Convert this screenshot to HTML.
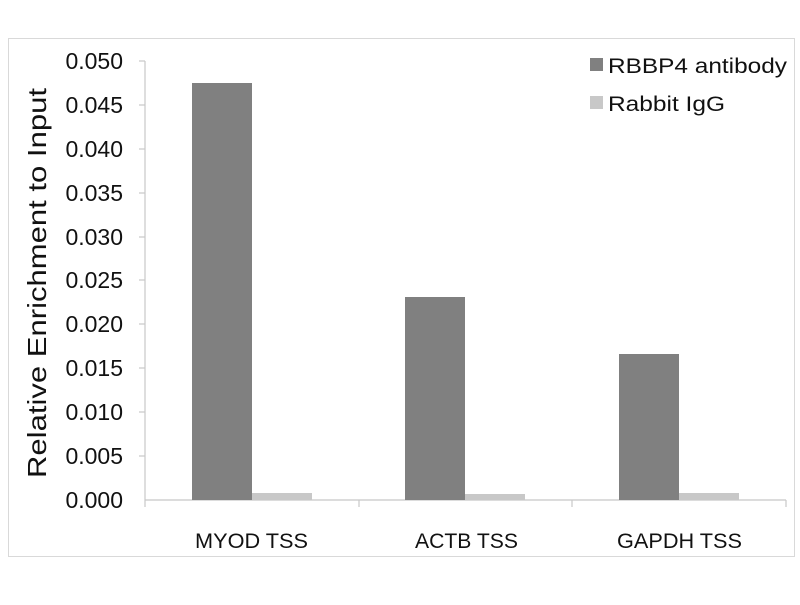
<!DOCTYPE html><html><head><style>body{margin:0;background:#fff}</style></head><body>
<svg width="800" height="600" xmlns="http://www.w3.org/2000/svg" font-family="'Liberation Sans',sans-serif">
<rect x="0" y="0" width="800" height="600" fill="#fff"/>
<rect x="8.5" y="38.5" width="786" height="518" fill="none" stroke="#d9d9d9"/>
<g stroke="#c8c8c8" stroke-width="1.2">
<line x1="145" y1="61" x2="145" y2="500"/>
<line x1="145" y1="500" x2="786" y2="500"/>
<line x1="139" y1="61" x2="145" y2="61"/><line x1="139" y1="105" x2="145" y2="105"/><line x1="139" y1="149" x2="145" y2="149"/><line x1="139" y1="193" x2="145" y2="193"/><line x1="139" y1="237" x2="145" y2="237"/><line x1="139" y1="280" x2="145" y2="280"/><line x1="139" y1="324" x2="145" y2="324"/><line x1="139" y1="368" x2="145" y2="368"/><line x1="139" y1="412" x2="145" y2="412"/><line x1="139" y1="456" x2="145" y2="456"/>
<line x1="145" y1="500" x2="145" y2="507"/><line x1="359" y1="500" x2="359" y2="507"/><line x1="572" y1="500" x2="572" y2="507"/><line x1="786" y1="500" x2="786" y2="507"/>
</g>
<g font-size="23" fill="#111" text-anchor="end">
<text x="123" y="69">0.050</text><text x="123" y="113">0.045</text><text x="123" y="157">0.040</text><text x="123" y="201">0.035</text><text x="123" y="245">0.030</text><text x="123" y="288">0.025</text><text x="123" y="332">0.020</text><text x="123" y="376">0.015</text><text x="123" y="420">0.010</text><text x="123" y="464">0.005</text><text x="123" y="508">0.000</text>
</g>
<text transform="translate(46,283) rotate(-90)" font-size="26" text-anchor="middle" fill="#111" textLength="390" lengthAdjust="spacingAndGlyphs">Relative Enrichment to Input</text>
<g fill="#808080">
<rect x="192" y="83" width="60" height="417"/><rect x="405" y="297" width="60" height="203"/><rect x="619" y="354" width="60" height="146"/>
</g>
<g fill="#c8c8c8">
<rect x="252" y="493" width="60" height="7"/><rect x="465" y="494" width="60" height="6"/><rect x="679" y="493" width="60" height="7"/>
</g>
<g font-size="21" fill="#111">
<text x="195" y="548" textLength="113" lengthAdjust="spacingAndGlyphs">MYOD TSS</text><text x="415" y="548" textLength="103" lengthAdjust="spacingAndGlyphs">ACTB TSS</text><text x="617" y="548" textLength="125" lengthAdjust="spacingAndGlyphs">GAPDH TSS</text>
</g>
<rect x="590" y="58" width="13" height="13" fill="#808080"/>
<rect x="590" y="96" width="13" height="13" fill="#c8c8c8"/>
<g font-size="21" fill="#111"><text x="608" y="73" textLength="179" lengthAdjust="spacingAndGlyphs">RBBP4 antibody</text><text x="608" y="111" textLength="117" lengthAdjust="spacingAndGlyphs">Rabbit IgG</text></g>
</svg>
</body></html>
